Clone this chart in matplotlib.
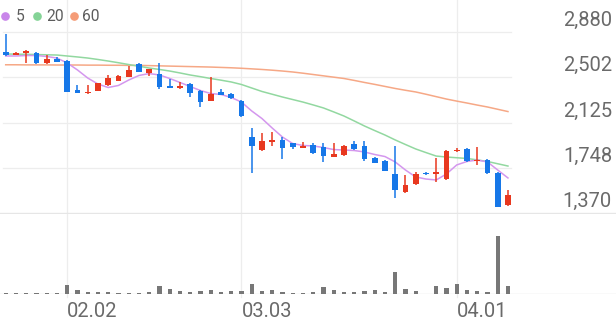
import matplotlib
matplotlib.use('Agg')
import matplotlib.pyplot as plt
import matplotlib.transforms as mtransforms
from matplotlib.lines import Line2D

# ---------------- data ----------------
opens = [2710, 2689, 2700, 2705, 2617, 2650, 2639, 2395, 2370, 2389,
         2437, 2473, 2506, 2611, 2539, 2528, 2431, 2409, 2445, 2387,
         2306, 2381, 2362, 2306, 2007, 1896, 1965, 1980, 1952, 1916,
         1938, 1919, 1841, 1855, 1946, 1930, 1827, 1807, 1697, 1547,
         1614, 1708, 1697, 1655, 1886, 1907, 1802, 1813, 1708, 1439]
highs = [2865, 2710, 2728, 2710, 2684, 2667, 2645, 2437, 2437, 2456,
         2520, 2517, 2595, 2616, 2572, 2617, 2484, 2464, 2450, 2392,
         2501, 2404, 2367, 2311, 2077, 2040, 2049, 2002, 1957, 1965,
         1957, 1957, 1952, 1937, 1974, 1974, 1842, 1812, 1930, 1689,
         1716, 1713, 1827, 1896, 1911, 1912, 1919, 1818, 1713, 1564]
lows = [2680, 2685, 2617, 2612, 2612, 2625, 2376, 2368, 2366, 2385,
        2432, 2468, 2500, 2542, 2512, 2401, 2408, 2405, 2340, 2256,
        2300, 2350, 2321, 2174, 1708, 1891, 1930, 1819, 1902, 1911,
        1864, 1797, 1836, 1850, 1897, 1807, 1786, 1719, 1495, 1542,
        1609, 1692, 1633, 1650, 1881, 1800, 1772, 1697, 1420, 1434]
closes = [2685, 2705, 2722, 2617, 2650, 2630, 2381, 2373, 2381, 2451,
          2493, 2512, 2562, 2547, 2567, 2418, 2412, 2429, 2373, 2298,
          2360, 2354, 2326, 2179, 1930, 1974, 1980, 1911, 1919, 1930,
          1869, 1846, 1861, 1932, 1902, 1819, 1791, 1724, 1564, 1603,
          1694, 1697, 1713, 1891, 1899, 1805, 1816, 1708, 1425, 1522]
volumes = [4, 4, 4, 4, 4, 3, 27, 11, 6, 6,
           7, 4, 4, 4, 6, 23, 14, 8, 6, 10,
           11, 6, 8, 8, 29, 9, 13, 6, 3, 4,
           5, 20, 13, 7, 6, 8, 11, 7, 67, 16,
           8, 1, 24, 19, 31, 12, 8, 6, 174, 24]
ma5 = [2678, 2678, 2682, 2682, 2674, 2661, 2620, 2562, 2495, 2445,
       2416, 2433, 2478, 2516, 2532, 2520, 2491, 2458, 2424, 2391,
       2366, 2358, 2333, 2295, 2221, 2158, 2079, 2004, 1950, 1934,
       1930, 1917, 1900, 1896, 1892, 1880, 1859, 1842, 1797, 1730,
       1672, 1655, 1647, 1697, 1772, 1801, 1813, 1797, 1730, 1664]
ma20 = [2695, 2693, 2692, 2690, 2688, 2686, 2678, 2670, 2661, 2649,
        2636, 2622, 2607, 2593, 2578, 2566, 2553, 2537, 2520, 2506,
        2491, 2477, 2462, 2441, 2412, 2383, 2360, 2337, 2316, 2295,
        2271, 2246, 2213, 2179, 2138, 2096, 2058, 2021, 1980, 1942,
        1905, 1875, 1846, 1838, 1832, 1826, 1814, 1801, 1782, 1763]
ma60 = [2605, 2605, 2604, 2604, 2604, 2603, 2603, 2603, 2602, 2602,
        2601, 2601, 2600, 2600, 2598, 2596, 2594, 2592, 2590, 2588,
        2586, 2583, 2580, 2576, 2571, 2566, 2560, 2553, 2545, 2535,
        2524, 2513, 2502, 2491, 2475, 2458, 2442, 2425, 2408, 2393,
        2379, 2360, 2340, 2320, 2303, 2287, 2270, 2254, 2235, 2216]
price_ticks = [2880, 2502, 2125, 1748, 1370]
price_tick_labels = ['2,880', '2,502', '2,125', '1,748', '1,370']
date_tick_index = [6, 23, 44]
date_tick_labels = ['02.02', '03.03', '04.01']
legend_labels = ['5', '20', '60']

# ---------------- style ----------------
W, H = 616, 321
RED = '#e8381f'
BLUE = '#1677e8'
C5, C20, C60 = '#d497ee', '#92d8a0', '#f6a886'
L5, L20, L60 = '#c986ea', '#84d396', '#f59c77'
GRID = '#ededed'
TXT = '#6a6a6a'
FONT = 'Roboto'

fig = plt.figure(figsize=(W / 100, H / 100), dpi=100)
fig.patch.set_facecolor('white')

X0, DX = 5.7, 10.25          # pixel position of first candle, spacing
xlim = (-X0 / DX, (W - X0) / DX)
n = len(closes)
xs = list(range(n))

# price panel: figure pixel rows 0..214
ax = fig.add_axes([0, 1 - 214 / H, 1, 214 / H])
ax.set_xlim(*xlim)
ax.set_ylim(1364.2, 3143.6)
ax.axis('off')

# volume panel: pixel rows 214..294
axv = fig.add_axes([0, 1 - 294 / H, 1, 80 / H])
axv.set_xlim(*xlim)
axv.set_ylim(0, 240)
axv.axis('off')

# horizontal grid lines
for p in price_ticks[:-1]:
    ax.plot([(3 - X0) / DX, (511 - X0) / DX], [p, p], color=GRID, lw=0.9, zorder=0)
ax.axhline(price_ticks[-1], color='#e6e6e6', lw=1.0, zorder=0)
axv.axhline(0, color='#e3e3e3', lw=1.0, zorder=0)

# vertical date grid lines spanning both panels
bt = mtransforms.blended_transform_factory(ax.transData, fig.transFigure)
for i in date_tick_index:
    fig.add_artist(Line2D([i, i], [1 - 297 / H, 1], transform=bt, color=GRID, lw=0.9, zorder=0))

# moving averages
ax.plot(xs, ma60, color=C60, lw=1.1, zorder=2)
ax.plot(xs, ma20, color=C20, lw=1.1, zorder=2)
ax.plot(xs, ma5, color=C5, lw=1.1, zorder=2)

# candles
min_h = 9.0
for i in xs:
    o, h, l, c = opens[i], highs[i], lows[i], closes[i]
    col = RED if c >= o else BLUE
    ax.vlines(i, l, h, color=col, lw=1.1, zorder=3)
    bot = min(o, c)
    hgt = max(abs(c - o), min_h)
    ax.bar(i, hgt, bottom=bot, width=0.56, color=col, linewidth=0, zorder=4)

# volume bars
axv.bar(xs, volumes, width=0.42, color='#777777', linewidth=0, zorder=2)

# price labels (right side, above grid lines)
for p, lab in zip(price_ticks, price_tick_labels):
    off = mtransforms.offset_copy(
        mtransforms.blended_transform_factory(fig.transFigure, ax.transData),
        fig=fig, x=0, y=6, units='dots')
    fig.text(612 / W, p, lab, transform=off, ha='right', va='baseline',
             fontsize=14.5, color=TXT, family=FONT)

# date labels
for i, lab in zip(date_tick_index, date_tick_labels):
    fig.text(i, 1 - 317 / H, lab, transform=bt, ha='left', va='baseline',
             fontsize=14.5, color=TXT, family=FONT)

# legend
lx = [5, 37, 74]
tx = [16, 46, 82]
for x, t, col, lab in zip(lx, tx, [L5, L20, L60], legend_labels):
    fig.add_artist(Line2D([x / W], [1 - 15.7 / H], transform=fig.transFigure,
                          marker='o', markersize=5.2, color=col, lw=0))
    fig.text(t / W, 1 - 21.3 / H, lab, ha='left', va='baseline',
             fontsize=11.2, color='#5c5c5c', family=FONT)

fig.savefig('out.png', dpi=100, facecolor='white')
